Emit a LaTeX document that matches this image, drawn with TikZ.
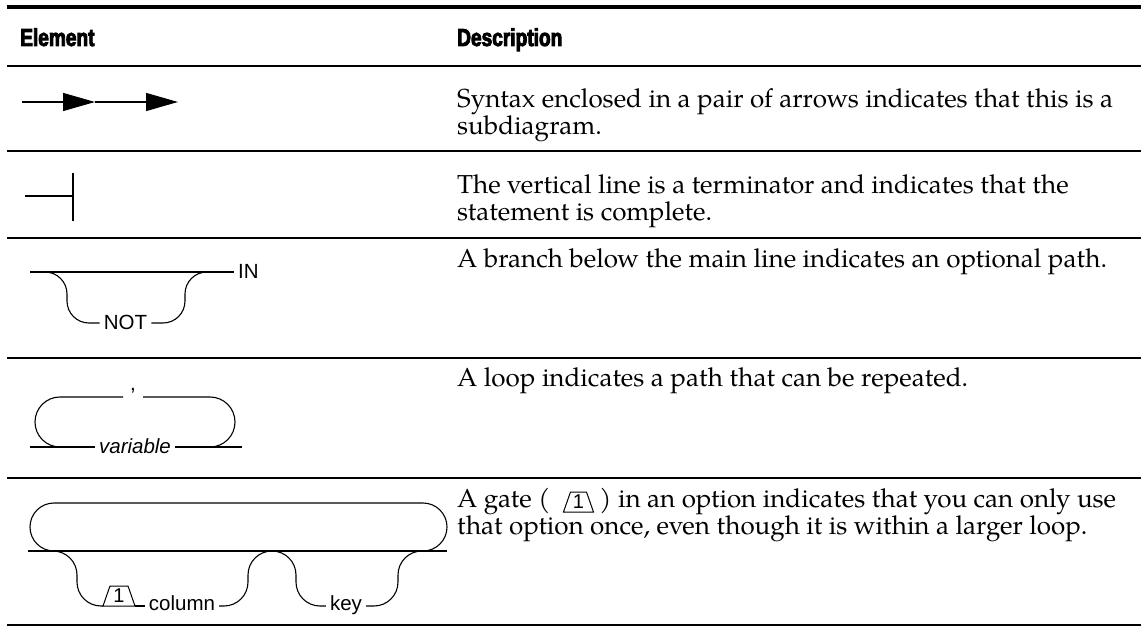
\documentclass[tikz,border=0pt]{standalone}
\usepackage{fontspec}
\setmainfont{TeX Gyre Pagella}
\setsansfont{Liberation Sans}
\newfontfamily\headfont[FakeStretch=0.78,FakeBold=3.5]{Liberation Sans}
\usetikzlibrary{arrows.meta,calc}

\begin{document}
\begin{tikzpicture}[x=1pt,y=-1pt,
  rule/.style={line width=1.4pt},
  track/.style={line width=1.1pt},
  bend/.style={track, rounded corners=#1},
  lbl/.style={font=\sffamily\fontsize{20.5}{24}\selectfont, inner xsep=4pt, inner ysep=0pt,
              text height=13pt, text depth=0pt},
  desc/.style={font=\fontsize{26}{27}\selectfont, anchor=base west, inner sep=0pt},
  head/.style={font=\headfont\bfseries\fontsize{24.5}{28}\selectfont, anchor=base west, inner sep=0pt},
  gatenum/.style={font=\sffamily\fontsize{20}{22}\selectfont, inner sep=0pt},
  gateline/.style={line width=1pt, line join=miter},
  tip/.style={-{Triangle[length=32pt,width=18pt]}},
]
\useasboundingbox (0,0) rectangle (1141,628);

% table rules
\draw[line width=4pt] (7,7) -- (1141,7);
\foreach \y in {66,151,238,358,478,625}
  \draw[rule] (7,\y) -- (1141,\y);

% column headings
\node[head] (hElem) at (20,46) {Element};
\node[head] (hDesc) at (457,46) {Description};

% --- subdiagram arrows
\coordinate (a0) at (22,102);
\coordinate (a1) at (95,102);
\coordinate (a2) at (178,102);
\draw[track,tip] (a0) -- (a1);
\draw[track,tip] (a1) -- (a2);
\node[desc] (d1a) at (457,108) {Syntax enclosed in a pair of arrows indicates that this is a};
\node[desc] (d1b) at (457,135) {subdiagram.};

% --- terminator
\coordinate (t0) at (25,196);
\coordinate (t1) at (73,196);
\draw[track] (t0) -- (t1);
\draw[track] ($(t1)+(0,-23)$) -- ($(t1)+(0,25)$);
\node[desc] (d2a) at (457,194) {The vertical line is a terminator and indicates that the};
\node[desc] (d2b) at (457,221) {statement is complete.};

% --- optional branch
\node[lbl, anchor=west] (kIN) at (234,272) {IN};
\node[lbl] (kNOT) at (125.5,323) {NOT};
\coordinate (b0) at (30,272);
\draw[track] (b0) -- (kIN.west);
\draw[bend=22pt] (45,272) -- (67,272) -- (67,323) -- (kNOT.west);
\draw[bend=22pt] (kNOT.east) -- (185,323) -- (185,272) -- (207,272);
\node[desc] (d3) at (457,268) {A branch below the main line indicates an optional path.};

% --- repeat loop
\node[lbl, font=\sffamily\itshape\fontsize{20.5}{24}\selectfont] (kVar) at (135,447) {variable};
\node[font=\sffamily\fontsize{20.5}{24}\selectfont, anchor=base, inner sep=0pt] (kComma) at (133,391) {,};
\coordinate (r0) at (30,447);
\coordinate (r1) at (242,447);
\draw[track] (r0) -- (kVar.west);
\draw[track] (kVar.east) -- (r1);
\draw[bend=25pt] (123,397) -- (35,397) -- (35,447) -- (60,447);
\draw[bend=25pt] (143,397) -- (235,397) -- (235,447) -- (210,447);
\node[desc] (d4) at (457,387) {A loop indicates a path that can be repeated.};

% --- gated option inside a loop
\coordinate (m0) at (28,551);
\coordinate (m1) at (447,551);
\draw[track] (m0) -- (m1);
\draw[bend=24pt] (54,551) -- (30,551) -- (30,503) -- (447,503) -- (447,551) -- (423,551);
% gate: trapezoid drawn around its number
\node[gatenum] (gA) at (119,596) {1};
\coordinate (gAl) at ($(gA.center)+(-16,10)$);
\coordinate (gAr) at ($(gA.center)+(16,10)$);
\draw[gateline] (gAl) -- ($(gA.center)+(-9,-10)$) -- ($(gA.center)+(9,-10)$) -- (gAr) -- cycle;
\node[lbl] (kCol) at (182,603.5) {column};
\node[lbl] (kKey) at (346,603.5) {key};
\draw[bend=24pt] (50,551) -- (77,551) -- (77,606) -- (gAl);
\draw[track] (gAr) -- (kCol.west |- gAr);
\draw[bend=24pt] (kCol.east |- gAr) -- (248,606) -- (248,551) -- (272,551);
\draw[bend=24pt] (272,551) -- (296,551) -- (296,606) -- (kKey.west |- gAr);
\draw[bend=24pt] (kKey.east |- gAr) -- (398,606) -- (398,551) -- (424,551);

\node[desc] (d5a) at (457,507) {A gate (};
\node[gatenum] (gB) at ($(d5a.base east)+(28,-5)$) {1};
\draw[gateline] ($(gB.center)+(-15,10)$) -- ($(gB.center)+(-8,-10)$) -- ($(gB.center)+(8,-10)$) -- ($(gB.center)+(15,10)$) -- cycle;
\node[desc] (d5b) at ($(gB.center)+(21,5)$) {) in an option indicates that you can only use};
\node[desc] (d5c) at (457,534) {that option once, even though it is within a larger loop.};
\end{tikzpicture}
\end{document}
